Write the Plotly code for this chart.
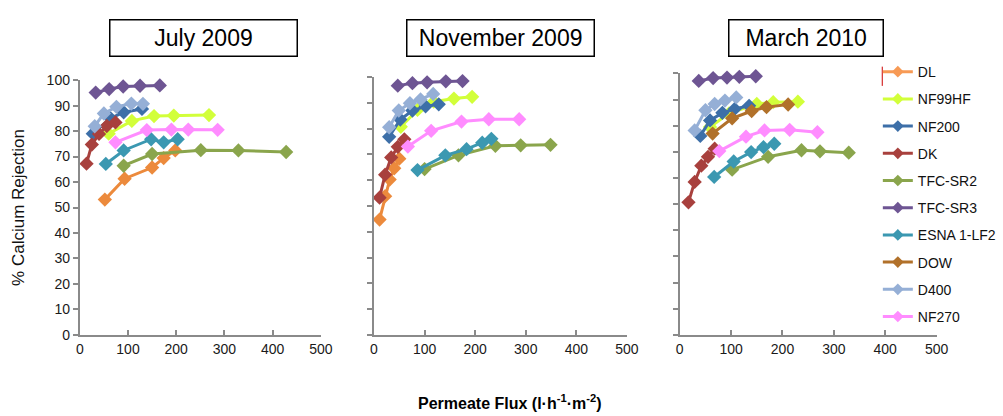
import plotly.graph_objects as go

W, H = 1003, 416

membranes = ["DL", "NF99HF", "NF200", "DK", "TFC-SR2", "TFC-SR3", "ESNA 1-LF2", "DOW", "D400", "NF270"]
colors = {
    "DL": "#EC8A3C", "NF99HF": "#D2FF3A", "NF200": "#3D6FA8", "DK": "#A8403D",
    "TFC-SR2": "#8AA54C", "TFC-SR3": "#6E5593", "ESNA 1-LF2": "#3B98B1",
    "DOW": "#B1712A", "D400": "#95AFD6", "NF270": "#FF8CFF",
}
legend_colors = dict(colors, DL="#F79A55")

panel_titles = ["July 2009", "November 2009", "March 2010"]

# ---- July 2009 ----
jul_x = {
    "DL": [52, 93, 150, 174, 198],
    "NF99HF": [60, 108, 154, 195, 268],
    "NF200": [27, 64, 91, 129],
    "DK": [14, 25, 40, 56, 74],
    "TFC-SR2": [91, 150, 251, 329, 428],
    "TFC-SR3": [33, 61, 90, 125, 166],
    "ESNA 1-LF2": [54, 91, 148, 174, 203],
    "D400": [31, 50, 76, 107, 131],
    "NF270": [74, 139, 190, 225, 286],
}
jul_y = {
    "DL": [53.1, 61.3, 65.7, 69.4, 72.4],
    "NF99HF": [79.0, 84.0, 85.9, 86.1, 86.3],
    "NF200": [79.0, 85.0, 87.4, 88.7],
    "DK": [67.2, 74.7, 78.9, 82.0, 83.4],
    "TFC-SR2": [66.4, 71.0, 72.5, 72.4, 71.8],
    "TFC-SR3": [95.1, 96.5, 97.5, 97.8, 97.9],
    "ESNA 1-LF2": [67.1, 72.4, 76.8, 75.6, 76.8],
    "D400": [81.9, 86.9, 89.5, 90.8, 90.7],
    "NF270": [75.6, 80.4, 80.6, 80.6, 80.5],
}

# ---- November 2009 ----
nov_x = {
    "DL": [11, 22, 31, 40, 50],
    "NF99HF": [53, 86, 118, 158, 194],
    "NF200": [30, 52, 76, 102, 128],
    "DK": [11, 22, 34, 47, 60],
    "TFC-SR2": [100, 167, 240, 290, 349],
    "TFC-SR3": [47, 76, 105, 142, 175],
    "ESNA 1-LF2": [86, 141, 183, 214, 232],
    "D400": [30, 49, 71, 92, 117],
    "NF270": [67, 113, 173, 227, 287],
}
nov_y = {
    "DL": [44.7, 53.8, 60.2, 64.6, 68.3],
    "NF99HF": [80.7, 87.2, 90.4, 91.6, 92.3],
    "NF200": [76.8, 83.5, 87.0, 88.6, 89.4],
    "DK": [53.2, 62.1, 68.8, 72.9, 75.8],
    "TFC-SR2": [64.3, 69.6, 73.3, 73.5, 73.7],
    "TFC-SR3": [96.6, 97.6, 97.9, 98.3, 98.4],
    "ESNA 1-LF2": [63.9, 69.6, 72.0, 74.5, 76.0],
    "D400": [80.5, 87.0, 89.8, 91.3, 93.4],
    "NF270": [73.0, 79.1, 82.7, 83.6, 83.6],
}

# ---- March 2010 ----
mar_x = {
    "NF99HF": [59, 96, 150, 182, 230],
    "NF200": [40, 59, 83, 107, 135],
    "DK": [17, 29, 42, 55, 68],
    "TFC-SR2": [102, 172, 237, 273, 329],
    "TFC-SR3": [37, 65, 92, 116, 148],
    "ESNA 1-LF2": [67, 105, 139, 163, 184],
    "DOW": [64, 102, 140, 169, 211],
    "D400": [29, 50, 68, 88, 110],
    "NF270": [77, 129, 165, 214, 268],
}
mar_y = {
    "NF99HF": [79.5, 84.7, 88.3, 89.0, 89.2],
    "NF200": [76.1, 82.0, 84.9, 86.4, 87.6],
    "DK": [50.7, 58.5, 64.7, 68.1, 71.2],
    "TFC-SR2": [63.2, 68.1, 70.6, 70.2, 69.7],
    "TFC-SR3": [97.1, 98.2, 98.4, 98.7, 98.9],
    "ESNA 1-LF2": [60.4, 66.3, 69.9, 71.8, 73.1],
    "DOW": [77.0, 82.8, 85.6, 87.1, 88.1],
    "D400": [78.2, 85.9, 88.3, 89.6, 90.8],
    "NF270": [70.3, 75.8, 78.2, 78.4, 77.5],
}

panels = [(jul_x, jul_y), (nov_x, nov_y), (mar_x, mar_y)]

y_ticks = list(range(0, 101, 10))
x_ticks = list(range(0, 501, 100))

# pixel layout of each plot area: (left, right, top, bottom)
boxes = [(77, 322, 75, 340), (376, 633, 71.7, 340), (686.7, 947.7, 68, 340)]
title_boxes = [(108.7, 296.7), (410.7, 599), (737.3, 892.7)]

fig = go.Figure()
for i, (px, py) in enumerate(panels):
    ax = "" if i == 0 else str(i + 1)
    for m in membranes:
        if m not in px:
            continue
        fig.add_trace(go.Scatter(
            x=px[m], y=py[m], name=m, mode="lines+markers",
            xaxis="x" + ax, yaxis="y" + ax,
            line=dict(color=colors[m], width=3),
            marker=dict(symbol="diamond", size=11, color=colors[m]),
            legendgroup=m, showlegend=False, cliponaxis=False,
        ))

# legend-only entries (keep legend order and lighter DL legend colour)
for rank, m in enumerate(membranes):
    fig.add_trace(go.Scatter(
        x=[None], y=[None], name=m, mode="lines+markers",
        line=dict(color=legend_colors[m], width=3),
        marker=dict(symbol="diamond", size=9, color=legend_colors[m]),
        legendgroup=m, showlegend=True, legendrank=rank + 1,
    ))

axis_common = dict(showgrid=False, zeroline=False, showline=True,
                   linecolor="#8A8A8A", linewidth=2, ticklen=5, tickwidth=1.5,
                   tickcolor="#8A8A8A",
                   tickfont=dict(family="Liberation Sans, Arial", size=14, color="#1a1a1a"))

layout = dict(
    width=W, height=H, margin=dict(l=0, r=0, t=0, b=0),
    paper_bgcolor="white", plot_bgcolor="white",
    font=dict(family="Liberation Sans, Arial", color="#111"),
    legend=dict(x=888 / W, y=1 - 50 / H, xanchor="left", yanchor="top",
                font=dict(size=14, color="#111"), itemwidth=30,
                tracegroupgap=6, bgcolor="rgba(0,0,0,0)", traceorder="grouped"),
    annotations=[], shapes=[],
)
for i, (l, r, t, b) in enumerate(boxes):
    ax = "" if i == 0 else str(i + 1)
    layout["xaxis" + ax] = dict(axis_common, domain=[l / W, r / W], range=[0, 500],
                                tickvals=x_ticks, ticks="inside", anchor="y" + ax)
    layout["yaxis" + ax] = dict(axis_common, domain=[1 - b / H, 1 - t / H], range=[0, 100],
                                tickvals=y_ticks, ticks="outside", anchor="x" + ax,
                                showticklabels=(i == 0))
layout["yaxis"]["title"] = dict(text="% Calcium Rejection",
                                font=dict(size=17, family="Liberation Sans, Arial"),
                                standoff=18)

for i, (l, r) in enumerate(title_boxes):
    layout["annotations"].append(dict(
        text=panel_titles[i], xref="paper", yref="paper",
        x=(l + r) / 2 / W, y=1 - 30.7 / H, xanchor="center", yanchor="middle",
        showarrow=False, width=r - l - 2, height=35, borderpad=0,
        bordercolor="#000", borderwidth=1.5, bgcolor="white",
        font=dict(size=23, family="Liberation Sans, Arial", color="#000")))

layout["annotations"].append(dict(
    text="<b>Permeate Flux (l·h<sup>-1</sup>·m<sup>-2</sup>)</b>", xref="paper", yref="paper",
    x=514 / W, y=1 - 410 / H, xanchor="center", yanchor="middle", showarrow=False,
    font=dict(size=16, family="Liberation Sans, Arial", color="#000")))

layout["shapes"].append(dict(type="line", xref="paper", yref="paper",
                             x0=892.5 / W, x1=892.5 / W, y0=1 - 61 / H, y1=1 - 81 / H,
                             line=dict(color="#CC0000", width=1)))

fig.update_layout(**layout)
fig.write_html("out.html")
